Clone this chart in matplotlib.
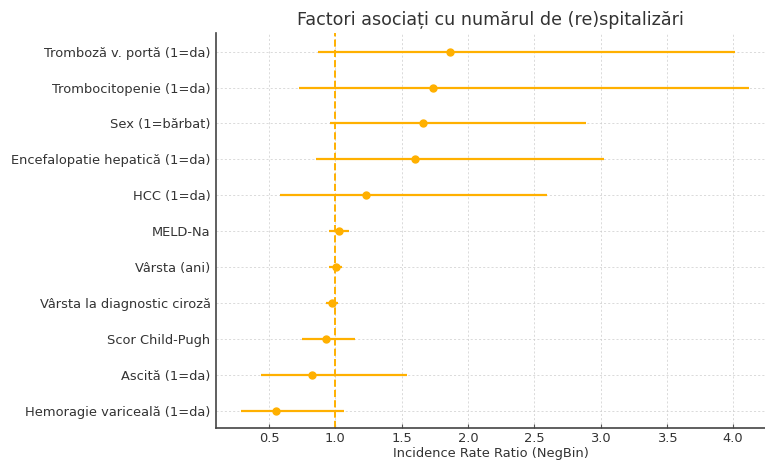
import matplotlib
matplotlib.use("Agg")
import matplotlib.pyplot as plt

labels = ["Tromboză v. portă (1=da)", "Trombocitopenie (1=da)", "Sex (1=bărbat)",
          "Encefalopatie hepatică (1=da)", "HCC (1=da)", "MELD-Na", "Vârsta (ani)",
          "Vârsta la diagnostic ciroză", "Scor Child-Pugh", "Ascită (1=da)",
          "Hemoragie variceală (1=da)"]
irr = [1.865, 1.735, 1.66, 1.604, 1.23, 1.026, 1.003, 0.976, 0.928, 0.822, 0.553]
ci_low = [0.87, 0.726, 0.958, 0.852, 0.58, 0.95, 0.953, 0.933, 0.749, 0.44, 0.287]
ci_high = [4.013, 4.12, 2.887, 3.025, 2.593, 1.104, 1.051, 1.021, 1.147, 1.537, 1.066]
xticks = [0.5, 1.0, 1.5, 2.0, 2.5, 3.0, 3.5, 4.0]

color = "#FFB000"
txt = "#333333"

fig = plt.figure(figsize=(7.65, 4.61), dpi=100)
ax = fig.add_axes([0.2824, 0.0716, 0.7176, 0.8568])

n = len(labels)
ypos = [n - 1 - i for i in range(n)]
for y, lo, hi in zip(ypos, ci_low, ci_high):
    ax.plot([lo, hi], [y, y], color=color, lw=1.6, solid_capstyle="butt", zorder=3)
ax.plot(irr, ypos, "o", color=color, ms=5, zorder=4)
ax.axvline(1.0, color=color, ls="--", lw=1.4, zorder=2)

ax.set_yticks(ypos)
ax.set_yticklabels(labels, fontsize=9.4, color=txt)
ax.set_xticks(xticks)
ax.set_xticklabels([f"{t:.1f}" for t in xticks], fontsize=9.4, color=txt)
ax.set_xlim(0.1, 4.24)
ax.set_ylim(-0.48, n - 1 + 0.52)

ax.grid(True, ls=(0, (3, 3)), lw=0.5, color="#cccccc", zorder=0)
ax.set_axisbelow(True)
for s in ["top", "right"]:
    ax.spines[s].set_visible(False)
for s in ["left", "bottom"]:
    ax.spines[s].set_color("#444444")
    ax.spines[s].set_linewidth(1.2)
ax.tick_params(axis="x", direction="in", length=3, color="#555555", pad=3)
ax.tick_params(axis="y", length=0, pad=4)

ax.set_xlabel("Incidence Rate Ratio (NegBin)", fontsize=9.4, color=txt, labelpad=1)
ax.set_title("Factori asociați cu numărul de (re)spitalizări", fontsize=12.6, color=txt, pad=6)

fig.savefig("out.png", dpi=100)
